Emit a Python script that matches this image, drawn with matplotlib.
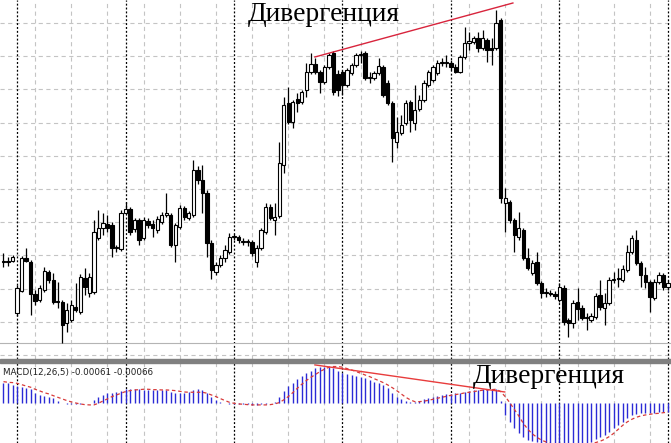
import matplotlib
matplotlib.use("Agg")
import matplotlib.pyplot as plt
import numpy as np
from matplotlib.patches import Rectangle

plt.rcParams['lines.scale_dashes'] = False

# ---------------- data (price in chart units, MACD in 1e-4) ----------------
opens = [98, 98, 99, 47, 69, 102, 98, 66, 60, 70,
         88, 80, 58, 58, 37, 40, 53, 48, 82, 67,
         68, 122, 132, 136, 135, 112, 111, 147, 151, 131,
         140, 122, 139, 136, 130, 138, 145, 145, 115, 133,
         152, 142, 145, 190, 180, 167, 117, 88, 95, 102,
         108, 123, 123, 118, 118, 118, 98, 112, 128, 153,
         140, 144, 195, 257, 238, 261, 258, 270, 288, 296,
         288, 278, 293, 307, 286, 288, 275, 287, 295, 305,
         307, 282, 282, 287, 293, 277, 257, 218, 227, 237,
         258, 237, 251, 260, 275, 280, 287, 297, 297, 297,
         293, 288, 303, 317, 318, 322, 312, 320, 312, 312,
         340, 157, 158, 140, 123, 130, 102, 87, 98, 77,
         67, 67, 66, 60, 72, 40, 37, 58, 52, 42,
         40, 43, 65, 52, 57, 80, 81, 80, 90, 108,
         120, 97, 85, 78, 62, 78, 85, 73]
highs = [107, 103, 105, 75, 104, 112, 100, 70, 75, 93,
         90, 87, 78, 60, 57, 60, 77, 86, 92, 87,
         140, 150, 147, 145, 138, 115, 150, 158, 153, 142,
         142, 143, 142, 140, 144, 148, 167, 147, 137, 155,
         154, 149, 200, 194, 195, 170, 120, 98, 105, 115,
         127, 126, 125, 122, 121, 120, 115, 132, 157, 156,
         157, 218, 263, 273, 260, 267, 270, 297, 307, 302,
         290, 295, 307, 309, 290, 290, 292, 297, 307, 309,
         309, 288, 289, 302, 295, 280, 259, 243, 245, 260,
         260, 275, 265, 280, 290, 295, 300, 302, 305, 300,
         296, 305, 333, 328, 324, 328, 330, 322, 322, 350,
         342, 172, 160, 142, 148, 132, 112, 100, 108, 79,
         72, 70, 69, 77, 75, 42, 60, 72, 55, 47,
         47, 67, 80, 67, 83, 88, 92, 95, 115, 125,
         130, 99, 93, 80, 81, 88, 87, 80]
lows = [93, 94, 98, 44, 68, 98, 45, 55, 58, 68,
        77, 56, 52, 17, 28, 38, 48, 46, 65, 63,
        66, 120, 125, 128, 103, 108, 109, 146, 125, 128,
        115, 120, 132, 123, 127, 136, 143, 113, 98, 131,
        140, 140, 143, 176, 147, 103, 81, 85, 93, 98,
        106, 120, 117, 115, 114, 104, 93, 110, 126, 140,
        125, 142, 187, 236, 232, 248, 256, 263, 286, 286,
        267, 276, 291, 265, 264, 265, 273, 285, 293, 297,
        280, 277, 280, 285, 263, 255, 198, 212, 225, 235,
        228, 230, 249, 258, 273, 278, 285, 294, 293, 290,
        287, 287, 301, 310, 316, 308, 310, 298, 295, 310,
        157, 128, 137, 108, 120, 100, 90, 85, 75, 62,
        63, 64, 61, 58, 35, 23, 32, 40, 40, 30,
        38, 41, 50, 35, 55, 77, 73, 78, 88, 106,
        95, 73, 72, 48, 60, 76, 70, 70]
closes = [98, 99, 103, 72, 102, 99, 66, 59, 72, 89,
          80, 58, 58, 35, 50, 55, 50, 83, 73, 83,
          128, 132, 137, 132, 112, 112, 147, 151, 128, 140,
          120, 140, 135, 132, 141, 145, 147, 115, 135, 152,
          143, 147, 190, 180, 167, 117, 90, 95, 102, 110,
          123, 123, 120, 118, 118, 107, 112, 130, 153, 142,
          143, 197, 255, 238, 258, 257, 268, 288, 296, 288,
          278, 293, 305, 268, 270, 275, 290, 295, 305, 305,
          282, 282, 287, 294, 265, 257, 222, 228, 235, 257,
          240, 250, 260, 277, 288, 293, 297, 298, 297, 293,
          288, 303, 317, 319, 322, 312, 322, 310, 310, 337,
          162, 162, 140, 125, 132, 102, 92, 97, 77, 67,
          67, 66, 64, 73, 38, 37, 57, 51, 42, 42,
          44, 64, 53, 57, 80, 80, 81, 91, 108, 122,
          97, 85, 78, 63, 78, 85, 73, 77]

macd_main_e4 = [15.2, 14.7, 13.5, 12.7, 11.8, 11.0, 10.3, 7.8, 6.1, 5.4,
                4.9, 3.7, 2.0, 0.5, -0.5, -0.7, -0.7, -0.5, 0.2, 0.5,
                2.5, 4.9, 6.1, 7.4, 7.8, 8.1, 9.3, 10.3, 10.3, 10.3,
                10.3, 9.8, 9.8, 9.8, 9.8, 9.8, 9.8, 8.6, 7.8, 7.8,
                7.8, 8.6, 9.8, 10.3, 9.8, 7.4, 4.9, 2.5, 1.2, 0.5,
                -0.2, -0.4, -0.6, -0.8, -0.9, -1.0, -1.0, -0.8, -0.4, 0.5,
                1.2, 4.9, 9.3, 12.7, 15.2, 17.6, 20.1, 22.5, 24.0, 25.7,
                26.5, 27.0, 27.0, 25.7, 24.0, 22.5, 21.6, 20.8, 20.1, 19.6,
                18.4, 17.2, 15.9, 14.7, 13.5, 11.0, 7.8, 4.9, 2.9, 2.0,
                1.2, 1.2, 2.0, 2.9, 3.7, 4.9, 5.4, 6.1, 6.6, 6.9,
                7.4, 7.8, 8.6, 9.3, 9.8, 9.8, 10.3, 10.3, 10.3, 10.3,
                1.5, -8.6, -13.5, -18.4, -22.1, -25.0, -27.0, -27.4, -28.2, -28.9,
                -29.5, -30.2, -30.8, -31.2, -31.5, -31.5, -31.2, -30.8, -30.3, -29.6,
                -28.2, -26.5, -25.0, -23.3, -20.8, -18.4, -15.9, -13.5, -11.0, -8.6,
                -7.8, -7.4, -6.9, -6.9, -6.9, -6.1, -6.1, -6.1]
macd_signal_e4 = [15.9, 15.4, 15.2, 14.7, 13.7, 12.7, 11.8, 10.3, 9.1, 7.8,
                  6.9, 5.6, 4.4, 3.2, 2.0, 1.0, 0.2, -0.5, -1.0, -1.2,
                  -1.2, 0.0, 1.7, 3.2, 4.9, 6.1, 7.4, 8.6, 9.3, 9.8,
                  10.0, 10.3, 10.3, 10.0, 10.0, 9.8, 9.8, 9.6, 9.3, 8.8,
                  8.3, 8.1, 8.1, 8.1, 8.1, 7.4, 6.1, 4.9, 3.4, 2.0,
                  0.7, 0.0, -0.5, -0.7, -1.0, -1.2, -1.2, -1.2, -1.2, -1.0,
                  -0.5, 0.5, 2.5, 4.9, 7.8, 11.0, 14.0, 16.7, 19.1, 21.1,
                  23.3, 25.0, 26.5, 27.0, 27.0, 26.5, 25.5, 24.5, 23.3, 22.1,
                  20.8, 19.6, 18.1, 16.7, 15.2, 13.5, 11.5, 9.3, 6.9, 4.4,
                  2.5, 1.2, 1.2, 1.5, 2.2, 2.9, 3.7, 4.4, 5.1, 5.9,
                  6.4, 6.9, 7.6, 8.1, 8.6, 9.1, 9.6, 9.8, 10.0, 10.3,
                  8.6, 4.9, 0.5, -4.4, -9.3, -14.7, -19.1, -22.5, -25.0, -27.0,
                  -28.4, -29.8, -30.6, -31.2, -31.5, -31.6, -31.5, -31.2, -30.8, -30.2,
                  -29.6, -28.9, -27.9, -26.5, -24.5, -22.1, -19.1, -16.2, -13.7, -11.8,
                  -10.3, -9.3, -8.6, -8.1, -7.6, -7.4, -6.9, -6.6]

# divergence lines (bar index, value)
div_price_x = [68.9, 112.7]
div_price_y = [303, 357]
div_macd_x = [68.9, 110.9]
div_macd_y_e4 = [28.2, 8.3]
level_line = 17
label_text = "Дивергенция"

# ---------------- figure ----------------
W, H, DPI = 671, 443, 100
fig = plt.figure(figsize=(W / DPI, H / DPI), dpi=DPI)
fig.patch.set_facecolor("white")
ax = fig.add_axes([0, (H - 359) / H, 1, 359 / H])
axm = fig.add_axes([0, 0, 1, 80 / H])

n = len(opens)
x = np.arange(n)
o = np.array(opens, float); c = np.array(closes, float)
hi = np.array(highs, float); lo = np.array(lows, float)
macd_main = np.array(macd_main_e4) * 1e-4
macd_signal = np.array(macd_signal_e4) * 1e-4

xlim = (-0.774, 147.68)
grid_gray = "#c4c4c4"
for a in (ax, axm):
    a.set_xlim(*xlim)
    a.axis("off")
    for gx in range(7, n, 8):
        a.axvline(gx, color=grid_gray, lw=0.8, ls=(0, (3, 2.5)), zorder=0)
    for gx in range(3, n, 24):
        a.axvline(gx, color="black", lw=0.9, ls=(0, (1.4, 1.4)), zorder=0.5)

ax.set_ylim(1, 360)
for gy in np.arange(5, 360, 33.2):
    ax.axhline(gy, color=grid_gray, lw=0.8, ls=(0, (3, 2.5)), zorder=0)
ax.axhline(level_line, color="#b4b4b4", lw=0.8, zorder=0.6)

# candles
ax.vlines(x, lo, hi, color="black", lw=0.9, zorder=2)
up = c >= o
body_bot = np.minimum(o, c)
body_h = np.maximum(np.abs(c - o), 0.9)
ax.bar(x[up], body_h[up], bottom=body_bot[up], width=0.74, color="white",
       edgecolor="black", linewidth=0.8, zorder=3)
ax.bar(x[~up], body_h[~up], bottom=body_bot[~up], width=0.74, color="black",
       edgecolor="black", linewidth=0.8, zorder=3)

ax.plot(div_price_x, div_price_y, color="#d8243c", lw=1.0, zorder=4)
ax.text(54.1, 339, label_text, family="Liberation Serif", fontsize=19.8,
        ha="left", va="baseline", color="black", zorder=5)

# separator band
fig.patches.append(Rectangle((0, (H - 362.8) / H), 1, 3.5 / H, transform=fig.transFigure,
                             color="#808080", zorder=10))

# MACD panel
axm.set_ylim(-29.2e-4, 29.6e-4)
axm.vlines(x, 0, macd_main, color="#2b2bd6", lw=1.0, zorder=2)
axm.plot(x, macd_signal, color="#d83a3a", lw=0.9, ls=(0, (2.5, 2)), zorder=3)
axm.plot(div_macd_x, np.array(div_macd_y_e4) * 1e-4, color="#e83c3c", lw=1.0, zorder=4)
axm.text(-0.1, 22.5e-4,
         f"MACD(12,26,5) {macd_main[-1]:.5f} {macd_signal[-1]:.5f}",
         family="DejaVu Sans", fontsize=6.3, ha="left", va="center", color="#202020", zorder=5)
axm.text(103.9, 14.7e-4, label_text, family="Liberation Serif", fontsize=19.8,
         ha="left", va="baseline", color="black", zorder=5)

fig.savefig("out.png", dpi=DPI, facecolor="white")
